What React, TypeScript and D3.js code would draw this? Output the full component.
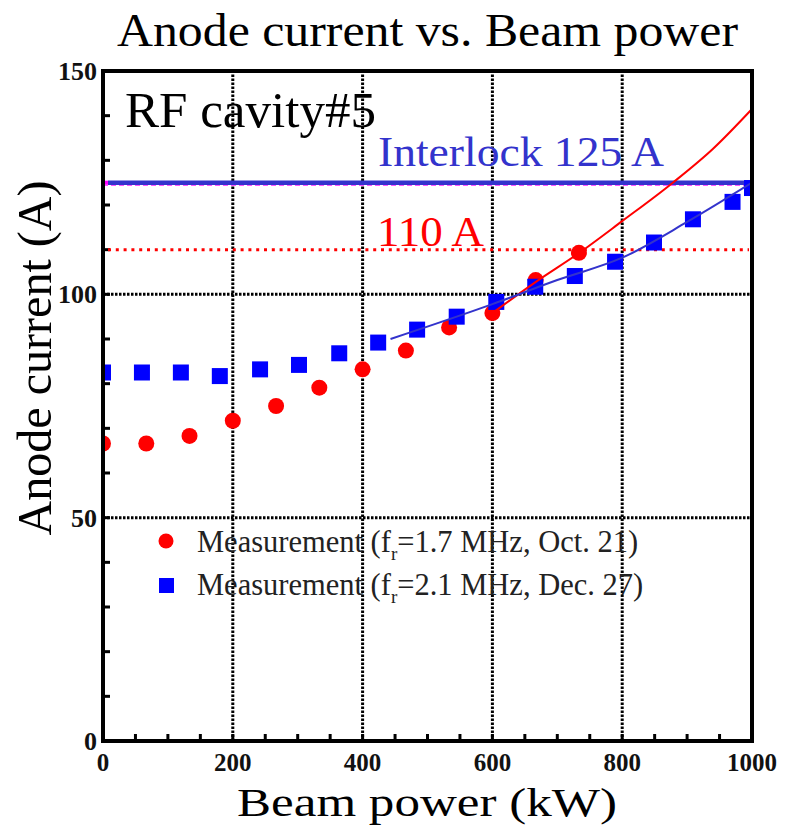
import React from "react";
import * as d3 from "d3";

const redX = [0, 66.7, 133.3, 200, 266.7, 333.3, 400, 466.7, 533.3, 600, 666.7, 733.3];
const redY = [66.6, 66.6, 68.3, 71.7, 75.0, 79.1, 83.2, 87.4, 92.6, 95.8, 103.2, 109.3];
const blueX = [0, 60, 120, 180, 242, 302, 364, 424, 484, 545, 606, 666, 727, 789, 849, 909, 970, 1000];
const blueY = [82.5, 82.5, 82.5, 81.7, 83.2, 84.2, 86.8, 89.2, 92.1, 95.0, 98.3, 101.7, 104.1, 107.3, 111.6, 116.8, 120.7, 123.8];
const redFitX = [600, 667, 733, 800, 878, 940, 1000];
const redFitY = [95.8, 102.8, 109.2, 116.4, 125, 132.6, 141.5];
const blueFitX = [443, 600, 700, 800, 900, 1000];
const blueFitY = [90, 97.8, 103.2, 108.2, 116.2, 125];
const xTicks = [0, 200, 400, 600, 800, 1000];
const yTicks = [0, 50, 100, 150];
const xGrid = [200, 400, 600, 800];
const yGrid = [50, 100];
const interlock = 125;
const limit110 = 110;

const L = 103, R = 752, T = 71, B = 741;
const FONT = "'Liberation Serif', 'Times New Roman', serif";

export default function App() {
  const x = d3.scaleLinear().domain([0, 1000]).range([L, R]);
  const y = d3.scaleLinear().domain([0, 150]).range([B, T]);
  const line = d3.line<[number, number]>().x(d => x(d[0])).y(d => y(d[1])).curve(d3.curveMonotoneX);
  const redFit = line(redFitX.map((v, i) => [v, redFitY[i]]) as [number, number][]) || "";
  const blueFit = line(blueFitX.map((v, i) => [v, blueFitY[i]]) as [number, number][]) || "";
  const xMinor = d3.range(50, 1000, 50);
  const yMinor = d3.range(10, 150, 10);

  return (
    <svg width={787} height={827} style={{ position: "absolute", left: 0, top: 0, background: "#fff" }}>
      <defs>
        <clipPath id="plot">
          <rect x={L} y={T} width={R - L} height={B - T} />
        </clipPath>
      </defs>
      <rect x={0} y={0} width={787} height={827} fill="#fff" />
      {/* title */}
      <text x={117} y={46} fontFamily={FONT} fontSize={46} fill="#000" textLength={621} lengthAdjust="spacingAndGlyphs">
        Anode current vs. Beam power
      </text>
      {/* grid */}
      {xGrid.map(v => (
        <line key={"gx" + v} x1={x(v)} x2={x(v)} y1={B} y2={T} stroke="#000" strokeWidth={3} strokeDasharray="2.5,1.5" />
      ))}
      {yGrid.map(v => (
        <line key={"gy" + v} x1={L} x2={R} y1={y(v)} y2={y(v)} stroke="#000" strokeWidth={3} strokeDasharray="2.5,1.5" />
      ))}
      {/* minor ticks */}
      {xMinor.map(v => (
        <line key={"tx" + v} x1={x(v)} x2={x(v)} y1={B} y2={B - 7} stroke="#000" strokeWidth={3} />
      ))}
      {yMinor.map(v => (
        <line key={"ty" + v} x1={L} x2={L + 7} y1={y(v)} y2={y(v)} stroke="#000" strokeWidth={3} />
      ))}
      {/* reference lines */}
      <line x1={L + 5} x2={R - 3} y1={y(limit110)} y2={y(limit110)} stroke="#ff0000" strokeWidth={3} strokeDasharray="3,4.8" />
      <line x1={L} x2={R} y1={y(interlock) + 2.5} y2={y(interlock) + 2.5} stroke="#ff55ff" strokeWidth={1.5} strokeDasharray="5,3" />
      <line x1={L + 5} x2={R - 6} y1={y(interlock)} y2={y(interlock)} stroke="#3333cc" strokeWidth={4.5} />
      <rect x={L} y={y(interlock) - 2} width={5} height={4} fill="#ff00ff" />
      <rect x={R - 6} y={y(interlock) - 2} width={5} height={4} fill="#ff00ff" />
      {/* data */}
      <g clipPath="url(#plot)">
        {redX.map((v, i) => (
          <circle key={"r" + i} cx={x(v)} cy={y(redY[i])} r={8} fill="#ff0000" />
        ))}
        {blueX.map((v, i) => (
          <rect key={"b" + i} x={x(v) - 8} y={y(blueY[i]) - 8} width={16} height={16} fill="#0000ff" />
        ))}
        <path d={redFit} fill="none" stroke="#ff0000" strokeWidth={2} />
        <path d={blueFit} fill="none" stroke="#3333cc" strokeWidth={2} />
      </g>
      {/* frame */}
      <rect x={L} y={T} width={R - L} height={B - T} fill="none" stroke="#000" strokeWidth={4} />
      {/* annotations */}
      <text x={125} y={127} fontFamily={FONT} fontSize={50} fill="#000" textLength={251} lengthAdjust="spacingAndGlyphs">
        RF cavity#5
      </text>
      <text x={378} y={166} fontFamily={FONT} fontSize={42} fill="#3333cc" textLength={286} lengthAdjust="spacingAndGlyphs">
        Interlock 125 A
      </text>
      <text x={377} y={246} fontFamily={FONT} fontSize={42} fill="#ff0000" textLength={107} lengthAdjust="spacingAndGlyphs">
        110 A
      </text>
      {/* legend */}
      <circle cx={166} cy={541} r={7.5} fill="#ff0000" />
      <text x={197} y={552} fontFamily={FONT} fontSize={30.5} fill="#222">
        Measurement (f<tspan fontSize={19} dy={8}>r</tspan><tspan dy={-8}>=1.7 MHz, Oct. 21)</tspan>
      </text>
      <rect x={159} y={578} width={15} height={15} fill="#0000ff" />
      <text x={197} y={595} fontFamily={FONT} fontSize={30.5} fill="#222">
        Measurement (f<tspan fontSize={19} dy={8}>r</tspan><tspan dy={-8}>=2.1 MHz, Dec. 27)</tspan>
      </text>
      {/* tick labels */}
      {yTicks.map(v => (
        <text key={"yl" + v} x={97} y={y(v)} dy="0.35em" textAnchor="end" fontFamily={FONT} fontWeight="bold" fontSize={26} fill="#111">
          {v}
        </text>
      ))}
      {xTicks.map(v => (
        <text key={"xl" + v} x={x(v)} y={771} textAnchor="middle" fontFamily={FONT} fontWeight="bold" fontSize={25} fill="#111">
          {v}
        </text>
      ))}
      {/* axis titles */}
      <text x={427} y={816} textAnchor="middle" fontFamily={FONT} fontSize={41} fill="#000" textLength={380} lengthAdjust="spacingAndGlyphs">
        Beam power (kW)
      </text>
      <text transform="translate(51,358) rotate(-90)" textAnchor="middle" fontFamily={FONT} fontSize={48} fill="#000" textLength={355} lengthAdjust="spacingAndGlyphs">
        Anode current (A)
      </text>
    </svg>
  );
}
